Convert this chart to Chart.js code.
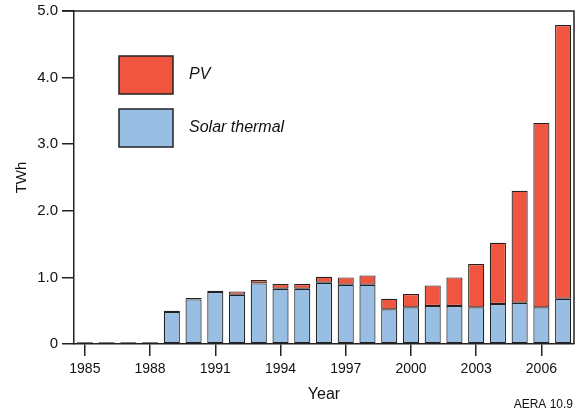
<!DOCTYPE html>
<html>
<head>
<meta charset="utf-8">
<script src="https://cdn.jsdelivr.net/npm/chart.js@4"></script>
<style>
  html, body { margin: 0; padding: 0; background: #fff; }
  #wrap { width: 579px; height: 414px; }
</style>
</head>
<body>
<div id="wrap"><canvas id="chart" width="579" height="414"></canvas></div>
<script>
const years = ['1985', '1986', '1987', '1988', '1989', '1990', '1991', '1992', '1993', '1994', '1995', '1996',
    '1997', '1998', '1999', '2000', '2001', '2002', '2003', '2004', '2005', '2006', '2007'];
const solarThermal = [0.02, 0.02, 0.02, 0.02, 0.48, 0.67, 0.78, 0.74, 0.91, 0.83, 0.83, 0.92,
    0.89, 0.89, 0.52, 0.55, 0.57, 0.57, 0.55, 0.60, 0.62, 0.55, 0.68];
const pv = [0.01, 0.01, 0.01, 0.01, 0.02, 0.02, 0.02, 0.05, 0.05, 0.07, 0.07, 0.09,
    0.11, 0.14, 0.16, 0.20, 0.31, 0.43, 0.65, 0.92, 1.68, 2.77, 4.11];
const yTicks = [0, 1, 2, 3, 4, 5];

const red = '#f0553f';
const blue = '#99bee4';
const font = 'Liberation Sans, Arial, sans-serif';

// legend boxes, the top/right frame and the source note
const extras = {
    id: 'extras',
    afterDraw(chart) {
        const ctx = chart.ctx;
        const a = chart.chartArea;
        ctx.save();
        ctx.strokeStyle = '#222';
        ctx.lineWidth = 1.5;
        ctx.beginPath();
        ctx.moveTo(62, a.top);
        ctx.lineTo(a.right, a.top);
        ctx.lineTo(a.right, a.bottom);
        ctx.stroke();

        chart.data.datasets.slice().reverse().forEach((ds, i) => {
            const y = 56 + i * 53;
            ctx.fillStyle = ds.backgroundColor;
            ctx.fillRect(119, y, 54, 38);
            ctx.lineWidth = 1.5;
            ctx.strokeStyle = '#222';
            ctx.strokeRect(119, y, 54, 38);
            ctx.fillStyle = '#111';
            ctx.font = 'italic 16px ' + font;
            ctx.textBaseline = 'middle';
            ctx.fillText(ds.label, 189, y + 19);
        });

        ctx.font = '12px ' + font;
        ctx.textAlign = 'right';
        ctx.textBaseline = 'middle';
        ctx.fillText('AERA 10.9', 573, 405);
        ctx.restore();
    }
};

const ctx = document.getElementById('chart').getContext('2d');
new Chart(ctx, {
    type: 'bar',
    data: {
        labels: years,
        datasets: [{
            label: 'Solar thermal',
            data: solarThermal,
            backgroundColor: blue,
            borderColor: '#222',
            borderWidth: 1.2,
            borderSkipped: false
        }, {
            label: 'PV',
            data: pv,
            backgroundColor: red,
            borderColor: '#222',
            borderWidth: 1.2,
            borderSkipped: false
        }]
    },
    options: {
        responsive: false,
        animation: false,
        barPercentage: 0.74,
        categoryPercentage: 1,
        layout: {
            padding: { top: 11, right: 5, bottom: 0, left: 0 }
        },
        plugins: {
            legend: { display: false },
            tooltip: { enabled: false }
        },
        scales: {
            x: {
                stacked: true,
                afterFit: (scale) => { scale.height = 70; },
                grid: {
                    offset: false,
                    drawOnChartArea: false,
                    tickLength: 12,
                    lineWidth: 1.5,
                    color: (c) => (c.index % 3 === 0 ? '#222' : 'rgba(0,0,0,0)')
                },
                border: { color: '#222', width: 1.5 },
                ticks: {
                    autoSkip: false,
                    maxRotation: 0,
                    padding: 5,
                    color: '#111',
                    font: { family: font, size: 14 },
                    callback: (v, i) => (i % 3 === 0 ? years[i] : '')
                },
                title: {
                    display: true,
                    text: 'Year',
                    color: '#111',
                    font: { family: font, size: 16 },
                    padding: { top: 2, bottom: 10 }
                }
            },
            y: {
                stacked: true,
                min: 0,
                max: 5,
                afterFit: (scale) => {
                    scale.width = 74;
                    scale.paddingTop = 0;
                    scale.paddingBottom = 0;
                },
                afterBuildTicks: (scale) => { scale.ticks = yTicks.map(v => ({ value: v })); },
                grid: {
                    drawOnChartArea: false,
                    tickLength: 12,
                    lineWidth: 1.5,
                    color: '#222'
                },
                border: { color: '#222', width: 1.5 },
                ticks: {
                    padding: 4,
                    color: '#111',
                    font: { family: font, size: 15 },
                    callback: (v) => (v === 0 ? '0' : v.toFixed(1))
                },
                title: {
                    display: true,
                    text: 'TWh',
                    color: '#111',
                    font: { family: font, size: 15 },
                    padding: { top: 13, bottom: 2 }
                }
            }
        }
    },
    plugins: [extras]
});
</script>
</body>
</html>
